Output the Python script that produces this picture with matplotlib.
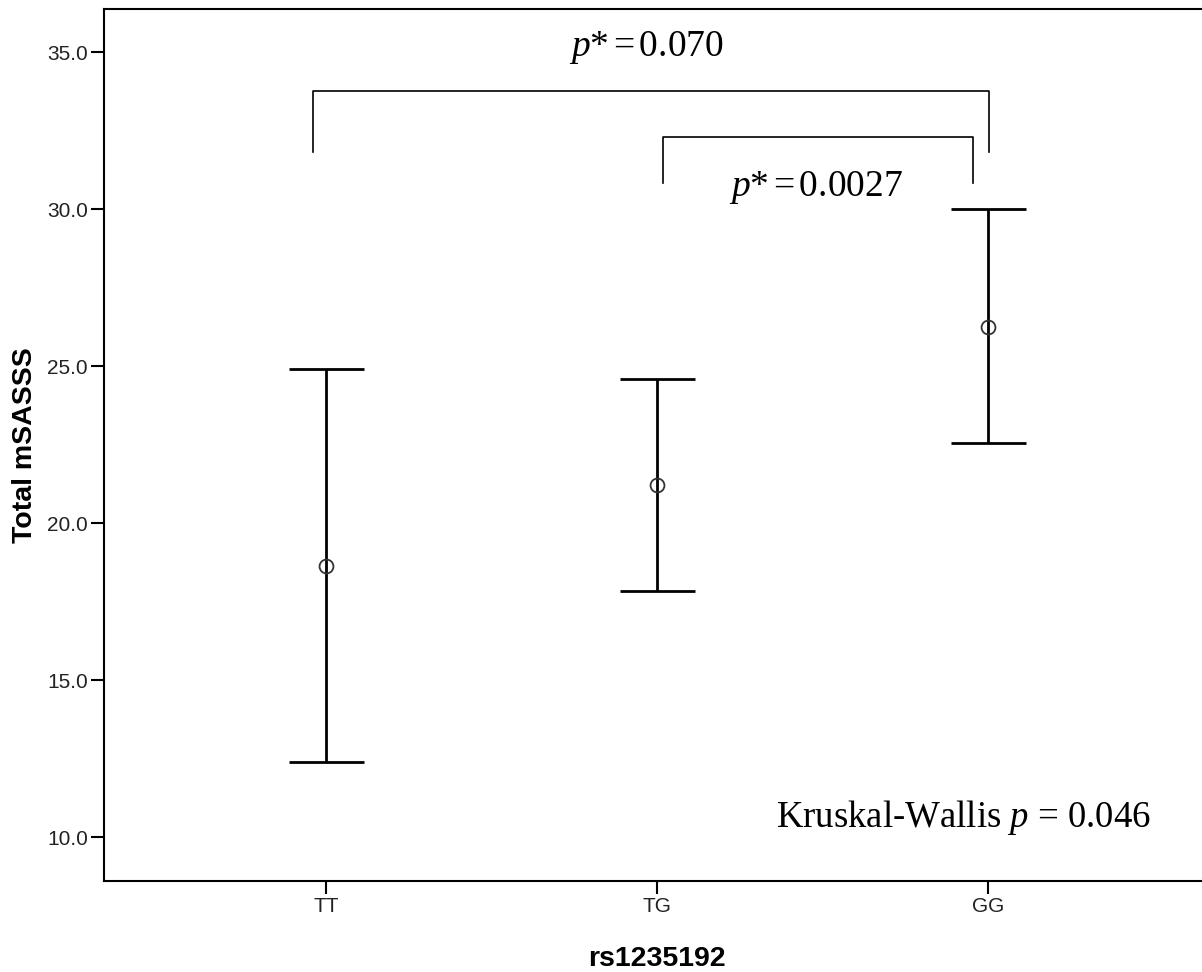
import matplotlib
matplotlib.use("Agg")
import matplotlib.pyplot as plt

# 数据
genotypes = ["TT", "TG", "GG"]
means = [18.63, 21.21, 26.25]
upper = [24.90, 24.59, 29.99]
lower = [12.38, 17.84, 22.54]

# 两两比较的括号: (左组, 右组, 顶部高度, 腿底部高度, 标签, 标签位置)
bracket_pairs = [(-0.04, 2.003), (1.018, 1.955)]
bracket_tops = [33.76, 32.29]
bracket_bottoms = [31.82, 30.83]
bracket_labels = ["0.070", "0.0027"]
label_x = [0.967, 1.48]
label_y = [35.13, 30.70]

kw_text = "0.046"

plt.rcParams['mathtext.fontset'] = 'custom'
plt.rcParams['mathtext.it'] = 'Liberation Serif:italic'
plt.rcParams['mathtext.rm'] = 'Liberation Serif'

fig = plt.figure(figsize=(12.02, 9.72), dpi=100)
ax = fig.add_axes([0.0865, 0.0936, 0.9135, 0.8971])

x = list(range(len(genotypes)))
err_lo = [m - l for m, l in zip(means, lower)]
err_hi = [u - m for m, u in zip(means, upper)]
ax.errorbar(x, means, yerr=[err_lo, err_hi], fmt='none', ecolor='black',
            elinewidth=2.0, capsize=27, capthick=2.0)
ax.plot(x, means, 'o', ms=10, mfc='none', mec='#333333', mew=1.3)

# 括号
for (a, b), top, bot in zip(bracket_pairs, bracket_tops, bracket_bottoms):
    ax.plot([a, a, b, b], [bot, top, top, bot], color='black', lw=1.2)

for lab, lx, ly in zip(bracket_labels, label_x, label_y):
    ax.text(lx, ly, r'$p$*$\,$=$\,$' + lab, family='Liberation Serif', fontsize=27,
            ha='center', va='center')

ax.text(1.927, 10.61, r'Kruskal-Wallis $p$ = ' + kw_text, family='Liberation Serif',
        fontsize=26.5, ha='center', va='center')

ax.set_xlim(-0.671, 2.647)
ax.set_ylim(8.6, 36.37)
ax.set_xticks(x)
ax.set_xticklabels(genotypes)
ax.set_yticks([10, 15, 20, 25, 30, 35])
ax.set_yticklabels([f"{v:.1f}" for v in [10, 15, 20, 25, 30, 35]])

for side in ['left', 'bottom', 'top']:
    ax.spines[side].set_linewidth(1.5)
ax.spines['right'].set_visible(False)

ax.tick_params(axis='both', length=9.5, width=1.5, labelsize=15, pad=2,
               colors='black', labelcolor='#222222')
for lab in ax.get_xticklabels() + ax.get_yticklabels():
    lab.set_family('Liberation Sans')

ax.set_xlabel("rs1235192", family='Liberation Sans', fontsize=20.5, fontweight='bold')
ax.set_ylabel("Total mSASSS", family='Liberation Sans', fontsize=20.5, fontweight='bold')
ax.xaxis.set_label_coords(0.5036, -0.074)
ax.yaxis.set_label_coords(-0.060, 0.5)

plt.savefig("out.png", dpi=100)
plt.close()
